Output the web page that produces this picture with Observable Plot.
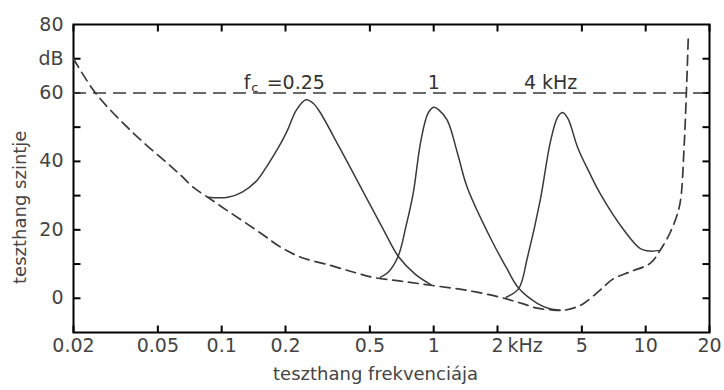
<!DOCTYPE html>
<html>
<head>
<meta charset="utf-8">
<script src="https://cdn.jsdelivr.net/npm/d3@7"></script>
<script src="https://cdn.jsdelivr.net/npm/@observablehq/plot@0.6"></script>
<style>
  html, body { margin: 0; padding: 0; background: #fff; }
  #chart svg { display: block; font-family: 'DejaVu Sans', Verdana, sans-serif; }
</style>
</head>
<body>
<div id="chart"></div>
<script>
// Threshold of hearing (dashed)
const thrFreq = [0.02, 0.0254, 0.0384, 0.0556, 0.064, 0.0736, 0.086, 0.107, 0.153, 0.189, 0.236, 0.326, 0.42, 0.52, 0.7, 0.97, 1.44, 2.06, 2.6, 3.08, 3.6, 4.1, 4.6, 5.1, 6.0, 7.0, 8.5, 10.5, 11.7, 13.0, 14.0, 14.6, 15.2, 15.6, 15.9];
const thrDb   = [70, 60, 48.2, 39.4, 36, 32.4, 29.5, 25.5, 19, 15, 12, 9.6, 7.6, 6.1, 5, 3.8, 2.3, 0.3, -1.5, -2.9, -3.4, -3.5, -2.8, -1.5, 2, 5.6, 7.8, 10.2, 14, 19, 24, 28.6, 45, 62, 77];

// Psychophysical tuning curves (solid)
const tc025Freq = [0.086, 0.107, 0.125, 0.147, 0.165, 0.185, 0.204, 0.225, 0.25, 0.27, 0.29, 0.36, 0.47, 0.58, 0.68, 0.82, 0.97];
const tc025Db   = [29.5, 29.5, 31, 34.5, 39, 44, 49, 55, 58, 57, 54.5, 44, 30.6, 20, 12.3, 7, 4];

const tc1Freq = [0.56, 0.61, 0.68, 0.74, 0.80, 0.87, 0.94, 1.0, 1.06, 1.16, 1.3, 1.44, 1.91, 2.2, 2.52, 3.08, 3.5, 3.95];
const tc1Db   = [6.1, 7.6, 12.3, 21, 30.6, 46, 54, 55.8, 55, 52, 42, 32.4, 16, 9, 2.9, -1.5, -3, -3.5];

const tc4Freq = [2.2, 2.52, 2.77, 3.18, 3.56, 3.85, 4.06, 4.3, 4.78, 5.4, 6.1, 7.9, 9.4, 10.5, 11.7];
const tc4Db   = [0.3, 2.9, 12, 28.6, 46, 53, 54.3, 52.5, 44, 37, 30.6, 19.9, 14.6, 13.8, 14];

// Axis ticks / labels
const xTicks = [0.02, 0.05, 0.1, 0.2, 0.5, 1, 2, 5, 10, 20];
const xTickLabels = ["0.02", "0.05", "0.1", "0.2", "0.5", "1", "2", "5", "10", "20"];
const yMinorTicks = [0, 10, 20, 30, 40, 50, 60, 70];
const yLabelTicks = [0, 20, 40, 60, 70, 80];
const yTickLabels = ["0", "20", "40", "60", "dB", "80"];

// Annotations
const fcParts = ["f", "c", "=0.25"];
const fcPartsX = [0.127, 0.138, 0.163];
const peakLabels = ["1", "4 kHz"];
const peakLabelsX = [1, 3.56];
const yTitle = "teszthang szintje";
const yTitlePos = 26.6;
const xTitle = "teszthang frekvenciája";

const thr = thrFreq.map((f, i) => ({f, db: thrDb[i]}));
const tcs = [
  ...tc025Freq.map((f, i) => ({f, db: tc025Db[i], c: "0.25"})),
  ...tc1Freq.map((f, i) => ({f, db: tc1Db[i], c: "1"})),
  ...tc4Freq.map((f, i) => ({f, db: tc4Db[i], c: "4"}))
];

const W = 724, H = 390, mL = 73, mR = 15, mT = 24, mB = 58;
const plotW = W - mL - mR, plotH = H - mT - mB, tickPx = 7;
const xDom = [0.02, 20], yDom = [-10, 80];
const tickDb = tickPx * (yDom[1] - yDom[0]) / plotH;
const tickRatio = Math.pow(xDom[1] / xDom[0], tickPx / plotW);

const ink = "#3a3a3a";
const txt = "#444444";

const chart = Plot.plot({
  width: W,
  height: H,
  marginLeft: mL,
  marginRight: mR,
  marginTop: mT,
  marginBottom: mB,
  x: {type: "log", domain: xDom, axis: null},
  y: {domain: yDom, axis: null},
  marks: [
    Plot.frame({stroke: "black", strokeWidth: 2}),
    Plot.link(xTicks, {x1: (d) => d, x2: (d) => d, y1: yDom[0], y2: yDom[0] + tickDb, stroke: "black", strokeWidth: 2}),
    Plot.link(xTicks, {x1: (d) => d, x2: (d) => d, y1: yDom[1] - tickDb, y2: yDom[1], stroke: "black", strokeWidth: 2}),
    Plot.link(yMinorTicks, {y1: (d) => d, y2: (d) => d, x1: xDom[0], x2: xDom[0] * tickRatio, stroke: "black", strokeWidth: 2}),
    Plot.link(yMinorTicks, {y1: (d) => d, y2: (d) => d, x1: xDom[1] / tickRatio, x2: xDom[1], stroke: "black", strokeWidth: 2}),
    Plot.ruleY([60], {stroke: ink, strokeWidth: 1.4, strokeDasharray: "13,7"}),
    Plot.line(thr, {x: "f", y: "db", stroke: ink, strokeWidth: 1.7, strokeDasharray: "10,6", curve: "catmull-rom"}),
    Plot.line(tcs, {x: "f", y: "db", z: "c", stroke: ink, strokeWidth: 1.5, curve: "catmull-rom"}),
    Plot.text(xTicks, {x: (d) => d, text: (d, i) => xTickLabels[i], frameAnchor: "bottom", dy: 19, fontSize: 19, fill: txt}),
    Plot.text(["kHz"], {x: 2, frameAnchor: "bottom", dy: 19, dx: 10, textAnchor: "start", fontSize: 19, fill: txt}),
    Plot.text(yLabelTicks, {y: (d) => d, text: (d, i) => yTickLabels[i], frameAnchor: "left", dx: -10, textAnchor: "end", fontSize: 19, fill: txt}),
    Plot.text([yTitle], {x: xDom[0], y: yTitlePos, dx: -53, rotate: -90, fontSize: 18, fill: txt}),
    Plot.text([xTitle], {frameAnchor: "bottom", dx: -16, dy: 47, fontSize: 18, fill: txt}),
    Plot.text([fcParts[0]], {x: fcPartsX[0], y: 60, dy: -10, textAnchor: "start", fontSize: 19, fill: "#333"}),
    Plot.text([fcParts[1]], {x: fcPartsX[1], y: 60, dy: -5, textAnchor: "start", fontSize: 13, fill: "#333"}),
    Plot.text([fcParts[2]], {x: fcPartsX[2], y: 60, dy: -10, textAnchor: "start", fontSize: 19, fill: "#333"}),
    Plot.text(peakLabels, {x: (d, i) => peakLabelsX[i], y: 60, dy: -10, textAnchor: (d, i) => i === 0 ? "middle" : "start", fontSize: 19, fill: "#333"})
  ]
});
document.getElementById("chart").appendChild(chart);
</script>
</body>
</html>
